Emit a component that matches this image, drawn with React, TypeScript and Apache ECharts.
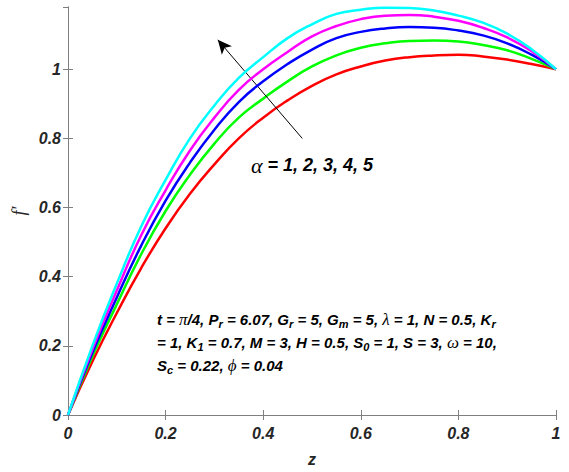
import React, { useEffect, useRef } from "react";
import * as echarts from "echarts";

const zValues = [0, 0.05, 0.1, 0.15, 0.2, 0.25, 0.3, 0.35, 0.4, 0.45, 0.5, 0.55, 0.6, 0.65, 0.7, 0.75, 0.8, 0.85, 0.9, 0.95, 1];
const alpha1 = [0, 0.155, 0.295, 0.425, 0.54, 0.64, 0.725, 0.8, 0.86, 0.91, 0.952, 0.985, 1.008, 1.025, 1.035, 1.04, 1.042, 1.037, 1.028, 1.015, 1.0];
const alpha2 = [0, 0.17, 0.32, 0.465, 0.59, 0.695, 0.785, 0.86, 0.915, 0.965, 1.008, 1.04, 1.062, 1.075, 1.082, 1.083, 1.08, 1.07, 1.055, 1.03, 1.0];
const alpha3 = [0, 0.18, 0.34, 0.49, 0.62, 0.73, 0.825, 0.905, 0.965, 1.015, 1.057, 1.09, 1.108, 1.118, 1.122, 1.12, 1.112, 1.098, 1.075, 1.042, 1.0];
const alpha4 = [0, 0.19, 0.36, 0.52, 0.65, 0.765, 0.86, 0.94, 1.0, 1.05, 1.095, 1.125, 1.145, 1.155, 1.157, 1.152, 1.14, 1.12, 1.092, 1.052, 1.0];
const alpha5 = [0, 0.2, 0.38, 0.545, 0.68, 0.8, 0.895, 0.975, 1.035, 1.09, 1.13, 1.16, 1.172, 1.178, 1.177, 1.17, 1.155, 1.135, 1.103, 1.058, 1.0];
const seriesNames = ["α = 1", "α = 2", "α = 3", "α = 4", "α = 5"];
const seriesColors = ["#ff0000", "#00ff00", "#0000ff", "#ff00ff", "#00ffff"];
const arrowStart = [0.48, 0.8];
const arrowEnd = [0.307, 1.085];

const FONT = "Liberation Sans, Arial, sans-serif";
const SERIF = "Liberation Serif, serif";
const labelStyle = {
  fontFamily: FONT,
  fontWeight: "bold" as const,
  fontStyle: "italic" as const,
  fontSize: 16,
  color: "#262626",
};

export default function App() {
  const ref = useRef<HTMLDivElement>(null);
  useEffect(() => {
    if (!ref.current) return;
    const chart = echarts.init(ref.current, null, { renderer: "svg" });
    const all = [alpha1, alpha2, alpha3, alpha4, alpha5];
    const series: any[] = all.map((vals, i) => ({
      name: seriesNames[i],
      type: "line",
      data: zValues.map((z, j) => [z, vals[j]]),
      smooth: true,
      showSymbol: false,
      lineStyle: { color: seriesColors[i], width: 2.5 },
      z: 3 + i,
    }));
    series[0].markLine = {
      silent: true,
      symbol: ["none", "arrow"],
      symbolSize: [10, 14],
      lineStyle: { color: "#000", width: 1, type: "solid" },
      label: { show: false },
      data: [[{ coord: arrowStart }, { coord: arrowEnd }]],
    };
    const axisLine = { show: true, lineStyle: { color: "#7f7f7f", width: 1 } };
    const axisTick = { show: true, inside: true, length: 5, lineStyle: { color: "#7f7f7f" } };
    const subStyle = { fontFamily: FONT, fontWeight: "bold", fontStyle: "italic", fontSize: 11, padding: [9, 0, 0, 0], lineHeight: 23, fill: "#000" };
    const greekStyle = { fontFamily: SERIF, fontStyle: "italic", fontWeight: "normal", fontSize: 17, lineHeight: 23, fill: "#000" };
    chart.setOption({
      animation: false,
      backgroundColor: "#ffffff",
      grid: { left: 68, right: 13, top: 7, bottom: 55, containLabel: false },
      xAxis: [
        {
          type: "value",
          min: 0,
          max: 1,
          interval: 0.2,
          name: "z",
          nameLocation: "middle",
          nameGap: 36,
          nameTextStyle: { ...labelStyle },
          axisLine,
          axisTick,
          splitLine: { show: false },
          axisLabel: { ...labelStyle, margin: 10, formatter: (v: number) => String(+v.toFixed(1)) },
        },
        {
          type: "value",
          position: "top",
          min: 0,
          max: 1,
          interval: 0.2,
          axisLine,
          axisTick,
          splitLine: { show: false },
          axisLabel: { show: false },
        },
      ],
      yAxis: [
        {
          type: "value",
          min: 0,
          max: 1.18,
          interval: 0.2,
          name: "f′",
          nameLocation: "middle",
          nameRotate: 90,
          nameGap: 36,
          nameTextStyle: { ...labelStyle, fontFamily: SERIF, fontWeight: "normal", fontSize: 18 },
          axisLine,
          axisTick,
          splitLine: { show: false },
          axisLabel: { ...labelStyle, margin: 7, showMaxLabel: false, formatter: (v: number) => (v > 1.05 ? "" : String(+v.toFixed(1))) },
        },
        {
          type: "value",
          position: "right",
          min: 0,
          max: 1.18,
          interval: 0.2,
          axisLine,
          axisTick,
          splitLine: { show: false },
          axisLabel: { show: false },
        },
      ],
      graphic: [
        {
          type: "text",
          x: 251,
          y: 165,
          style: {
            text: "{a|α} = 1, 2, 3, 4, 5",
            fontFamily: FONT,
            fontWeight: "bold",
            fontStyle: "italic",
            fontSize: 18,
            fill: "#000",
            textVerticalAlign: "middle",
            rich: {
              a: { fontFamily: SERIF, fontStyle: "italic", fontWeight: "normal", fontSize: 22, fill: "#000" },
            },
          },
        },
        {
          type: "text",
          x: 157,
          y: 308,
          style: {
            text:
              "t = {s|π}/4, P{sub|r} = 6.07, G{sub|r} = 5, G{sub|m} = 5, {s|λ} = 1, N = 0.5, K{sub|r}\n" +
              "= 1, K{sub|1} = 0.7, M = 3, H = 0.5, S{sub|0} = 1, S = 3, {s|ω} = 10,\n" +
              "S{sub|c} = 0.22, {s|ϕ} = 0.04",
            fontFamily: FONT,
            fontWeight: "bold",
            fontStyle: "italic",
            fontSize: 15,
            lineHeight: 23,
            fill: "#000",
            rich: {
              sub: subStyle,
              s: greekStyle,
            },
          },
        },
      ],
      series,
    });
    return () => chart.dispose();
  }, []);
  return <div ref={ref} style={{ position: "fixed", left: 0, top: 0, width: 569, height: 472 }} />;
}
